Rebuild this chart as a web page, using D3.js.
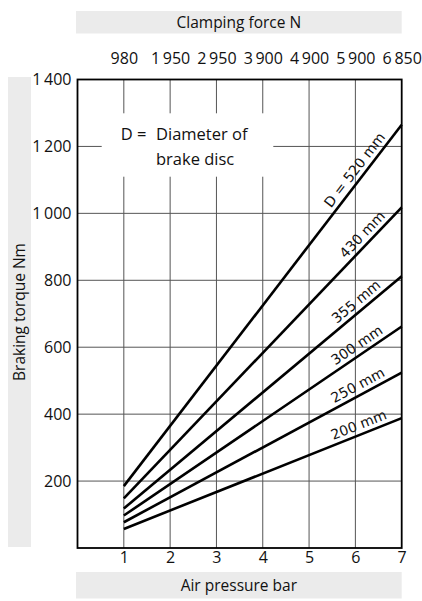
<!DOCTYPE html>
<html>
<head>
<meta charset="utf-8">
<script src="https://cdn.jsdelivr.net/npm/d3@7"></script>
<style>
  html, body { margin: 0; padding: 0; background: #fff; }
  svg { display: block; }
  text { font-family: "Open Sans", "Noto Sans", sans-serif; fill: #111; }
</style>
</head>
<body>
<svg id="chart" width="422" height="601"></svg>
<script>
// ---- data ----
const pressureTicks = [1, 2, 3, 4, 5, 6, 7];                     // Air pressure, bar
const clampingForce = [980, 1950, 2950, 3900, 4900, 5900, 6850];  // Clamping force N (top axis)
const torqueTicks = [200, 400, 600, 800, 1000, 1200, 1400];        // Braking torque Nm
const diameters = ["520", "430", "355", "300", "250", "200"];      // disc diameter mm
const torqueAt1bar = [185, 148, 118, 97, 77, 57];                  // Nm at 1 bar
const torqueAt7bar = [1265, 1018, 812, 662, 524, 388];             // Nm at 7 bar
const xLabel = "Air pressure bar";
const yLabel = "Braking torque Nm";
const topLabel = "Clamping force N";
const noteLines = ["Diameter of", "brake disc"];

// ---- layout ----
const svg = d3.select("#chart");
const pL = 77.5, pR = 401.7, pT = 79.5, pB = 548;
const x = d3.scaleLinear().domain([0, 7]).range([pL, pR]);
const y = d3.scaleLinear().domain([0, 1400]).range([pB, pT]);
const loc = d3.formatLocale({decimal: ".", thousands: "\u2009", grouping: [3], currency: ["", ""]});
const fmt = loc.format(",d");
const grey = "#ebebeb";

// grey title bands
svg.append("rect").attr("x", 76).attr("y", 11).attr("width", pR - 76).attr("height", 22.5).attr("fill", grey);
svg.append("rect").attr("x", 8).attr("y", 77).attr("width", 23).attr("height", 470).attr("fill", grey);
svg.append("rect").attr("x", 76).attr("y", 572).attr("width", pR - 76).attr("height", 26.5).attr("fill", grey);

svg.append("text").attr("x", (76 + pR) / 2).attr("y", 28).attr("text-anchor", "middle")
  .style("font-size", "15.5px").text(topLabel);
svg.append("text").attr("transform", `translate(25,312) rotate(-90)`).attr("text-anchor", "middle")
  .style("font-size", "15.5px").text(yLabel);
svg.append("text").attr("x", (76 + pR) / 2).attr("y", 591).attr("text-anchor", "middle")
  .style("font-size", "15.5px").text(xLabel);

// grid
const grid = svg.append("g");
grid.selectAll("line.v").data(pressureTicks.slice(0, -1)).join("line")
  .attr("x1", d => x(d)).attr("x2", d => x(d)).attr("y1", y(0)).attr("y2", y(1400))
  .attr("stroke", "#555").attr("stroke-width", 1);
grid.selectAll("line.h").data(torqueTicks.slice(0, -1)).join("line")
  .attr("x1", x(0)).attr("x2", x(7)).attr("y1", d => y(d)).attr("y2", d => y(d))
  .attr("stroke", "#555").attr("stroke-width", 1);

// note box
svg.append("rect").attr("x", 101.7).attr("y", 113.3).attr("width", 171.6).attr("height", 63.4).attr("fill", "#fff");
svg.append("text").attr("x", 120.7).attr("y", 140).style("font-size", "16.5px").text("D =");
svg.append("text").attr("x", 156).attr("y", 140).style("font-size", "16.5px").text(noteLines[0]);
svg.append("text").attr("x", 156).attr("y", 165).style("font-size", "16.5px").text(noteLines[1]);

// frame
svg.append("rect").attr("x", pL).attr("y", pT).attr("width", pR - pL).attr("height", pB - pT)
  .attr("fill", "none").attr("stroke", "#000").attr("stroke-width", 1.8);

// axes
const axTop = svg.append("g").attr("transform", `translate(0,${pT - 16})`)
  .call(d3.axisTop(x).tickValues(pressureTicks).tickSize(0).tickPadding(0)
    .tickFormat((d, i) => fmt(clampingForce[i])));
const axLeft = svg.append("g").attr("transform", `translate(${pL},0)`)
  .call(d3.axisLeft(y).tickValues(torqueTicks).tickSize(0).tickPadding(6).tickFormat(fmt));
const axBottom = svg.append("g").attr("transform", `translate(0,${pB})`)
  .call(d3.axisBottom(x).tickValues(pressureTicks).tickSize(0).tickPadding(4).tickFormat(d3.format("d")));
[axTop, axLeft, axBottom].forEach(g => {
  g.select(".domain").remove();
  g.selectAll("text").style("font-family", '"Open Sans", sans-serif').style("font-size", "16px").attr("fill", "#111");
});

// series lines
const series = diameters.map((d, i) => ({
  d, v: [[1, torqueAt1bar[i]], [7, torqueAt7bar[i]]]
}));
const line = d3.line().x(p => x(p[0])).y(p => y(p[1]));
svg.append("g").selectAll("path").data(series).join("path")
  .attr("d", s => line(s.v)).attr("fill", "none").attr("stroke", "#000").attr("stroke-width", 2.6);

// labels along lines
svg.append("g").selectAll("text").data(series).join("text")
  .attr("transform", s => {
    const xl = s.d === "430" ? 6.3 : 6.15;
    const [p0, p1] = s.v;
    const v = p0[1] + (p1[1] - p0[1]) * (xl - p0[0]) / (p1[0] - p0[0]);
    const ang = Math.atan2(y(p1[1]) - y(p0[1]), x(p1[0]) - x(p0[0])) * 180 / Math.PI;
    return `translate(${x(xl)},${y(v)}) rotate(${ang})`;
  })
  .attr("dy", -5).attr("text-anchor", "middle")
  .style("font-family", '"DejaVu Sans", sans-serif').style("font-size", "14px")
  .text((s, i) => (i === 0 ? "D = " : "") + s.d + " mm");
</script>
</body>
</html>
